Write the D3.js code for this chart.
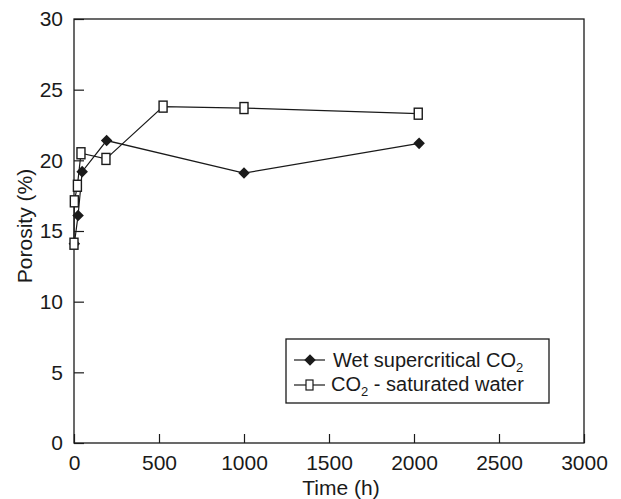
<!DOCTYPE html>
<html>
<head>
<meta charset="utf-8">
<script src="https://cdn.jsdelivr.net/npm/d3@7"></script>
<style>
  body { margin: 0; background: #fff; }
  text { font-family: "Liberation Sans", Arial, sans-serif; fill: #1a1a1a; }
</style>
</head>
<body>
<script>
// series
var wetTime = [2, 24, 48, 192, 1000, 2030];
var wetPorosity = [14.1, 16.1, 19.2, 21.4, 19.1, 21.2];
var waterTime = [0, 2, 20, 41, 188, 524, 1000, 2025];
var waterPorosity = [14.1, 17.1, 18.2, 20.5, 20.1, 23.8, 23.7, 23.3];
var xTicks = [0, 500, 1000, 1500, 2000, 2500, 3000];
var yTicks = [0, 5, 10, 15, 20, 25, 30];

var w = 621, h = 499;
var padLeft = 74, padRight = 584, padTop = 19, padBottom = 443;
var ink = "#1a1a1a";
var fs = 21;

var svg = d3.select("body").append("svg")
  .attr("width", w)
  .attr("height", h);

var x = d3.scaleLinear().domain([0, 3000]).range([padLeft, padRight]);
var y = d3.scaleLinear().domain([0, 30]).range([padBottom, padTop]);

// frame
svg.append("rect")
  .attr("x", padLeft).attr("y", padTop)
  .attr("width", padRight - padLeft).attr("height", padBottom - padTop)
  .attr("fill", "none").attr("stroke", ink).attr("stroke-width", 1.3);

// axes with inward ticks
var xAxis = svg.append("g")
  .attr("transform", "translate(0," + padBottom + ")")
  .call(d3.axisBottom(x).tickValues(xTicks).tickFormat(d3.format("d"))
    .tickSizeInner(-9).tickSizeOuter(0).tickPadding(12));
var yAxis = svg.append("g")
  .attr("transform", "translate(" + padLeft + ",0)")
  .call(d3.axisLeft(y).tickValues(yTicks).tickFormat(d3.format("d"))
    .tickSizeInner(-10).tickSizeOuter(0).tickPadding(11));

[xAxis, yAxis].forEach(function(g) {
  g.select(".domain").remove();
  g.selectAll(".tick line").attr("stroke", ink).attr("stroke-width", 1.2);
  g.selectAll(".tick text").attr("font-size", fs).attr("fill", ink);
});

svg.append("text")
  .attr("x", 341).attr("y", 495)
  .attr("text-anchor", "middle")
  .attr("font-size", fs)
  .text("Time (h)");

svg.append("text")
  .attr("transform", "translate(32,226) rotate(-90)")
  .attr("text-anchor", "middle")
  .attr("font-size", fs)
  .text("Porosity (%)");

var line = d3.line()
  .x(function(d) { return x(d[0]); })
  .y(function(d) { return y(d[1]); });

var wet = d3.zip(wetTime, wetPorosity);
var water = d3.zip(waterTime, waterPorosity);

svg.append("path").datum(wet)
  .attr("d", line).attr("fill", "none").attr("stroke", ink).attr("stroke-width", 1.2);
svg.append("path").datum(water)
  .attr("d", line).attr("fill", "none").attr("stroke", ink).attr("stroke-width", 1.2);

var diamond = d3.symbol().type(d3.symbolDiamond2).size(85);

svg.selectAll(".wet")
  .data(wet)
  .enter()
  .append("path")
  .attr("class", "wet")
  .attr("d", diamond)
  .attr("transform", function(d) { return "translate(" + x(d[0]) + "," + y(d[1]) + ")"; })
  .attr("fill", ink);

svg.selectAll(".water")
  .data(water)
  .enter()
  .append("rect")
  .attr("class", "water")
  .attr("x", function(d) { return x(d[0]) - 4; })
  .attr("y", function(d) { return y(d[1]) - 5.5; })
  .attr("width", 8).attr("height", 11)
  .attr("fill", "#fff").attr("stroke", ink).attr("stroke-width", 1.4);

// legend
var lg = svg.append("g");
lg.append("rect")
  .attr("x", 286).attr("y", 339)
  .attr("width", 263).attr("height", 64)
  .attr("fill", "#fff").attr("stroke", ink).attr("stroke-width", 1.3);

lg.append("line").attr("x1", 294).attr("x2", 325).attr("y1", 360).attr("y2", 360)
  .attr("stroke", ink).attr("stroke-width", 1.2);
lg.append("path").attr("d", diamond).attr("transform", "translate(310,360)").attr("fill", ink);
lg.append("line").attr("x1", 294).attr("x2", 325).attr("y1", 385).attr("y2", 385)
  .attr("stroke", ink).attr("stroke-width", 1.2);
lg.append("rect").attr("x", 306).attr("y", 380).attr("width", 7).attr("height", 10)
  .attr("fill", "#fff").attr("stroke", ink).attr("stroke-width", 1.2);

var t1 = lg.append("text").attr("x", 333).attr("y", 367).attr("font-size", 20);
t1.append("tspan").text("Wet supercritical CO");
t1.append("tspan").attr("font-size", 13).attr("dy", 5).text("2");

var t2 = lg.append("text").attr("x", 331).attr("y", 391).attr("font-size", 20);
t2.append("tspan").text("CO");
t2.append("tspan").attr("font-size", 13).attr("dy", 5).text("2");
t2.append("tspan").attr("dy", -5).text(" - saturated water");
</script>
</body>
</html>
